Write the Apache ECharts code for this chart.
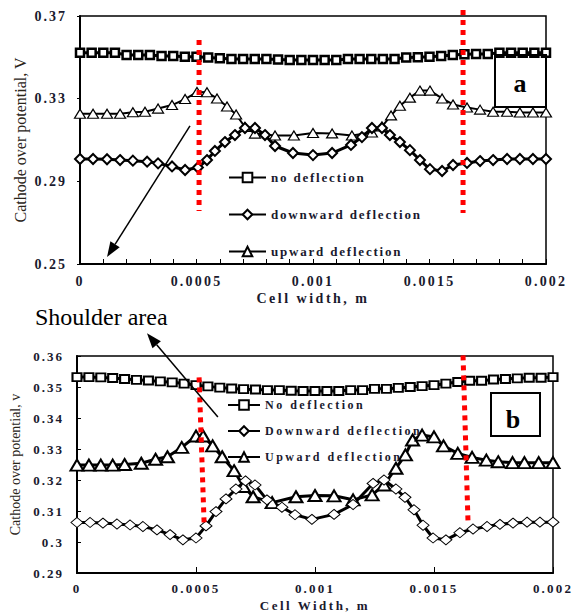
<!DOCTYPE html>
<html><head><meta charset="utf-8">
<script src="https://cdn.jsdelivr.net/npm/echarts@6/dist/echarts.min.js"></script>
<style>html,body{margin:0;padding:0;background:#fff}#main{width:573px;height:614px}</style>
</head><body><div id="main"></div>
<script>
// ---------- DATA (top chart "a") ----------
const topNoX = [0,0.00005,0.0001,0.00015,0.0002,0.00025,0.0003,0.00035,0.0004,0.00045,0.0005,0.00055,0.0006,0.00065,0.0007,0.00075,0.0008,0.00085,0.0009,0.00095,0.001,0.00105,0.0011,0.00115,0.0012,0.00125,0.0013,0.00135,0.0014,0.00145,0.0015,0.00155,0.0016,0.00165,0.0017,0.00175,0.0018,0.00185,0.0019,0.00195,0.002];
const topNoY = [0.3522,0.3522,0.3522,0.3522,0.3511,0.3511,0.3511,0.3506,0.3506,0.3503,0.3503,0.3499,0.3495,0.3492,0.3492,0.3492,0.3492,0.3490,0.3487,0.3487,0.3487,0.3487,0.3487,0.3492,0.3492,0.3492,0.3492,0.3492,0.3499,0.3501,0.3503,0.3506,0.3511,0.3515,0.3516,0.3516,0.3522,0.3522,0.3522,0.3522,0.3522];
const topDownX = [0,0.000056,0.000116,0.000172,0.000227,0.000288,0.000335,0.000395,0.000451,0.000506,0.000545,0.000579,0.000622,0.000665,0.000708,0.000751,0.000794,0.000837,0.000914,0.001,0.001082,0.001163,0.00121,0.001253,0.001296,0.00133,0.001373,0.001416,0.001459,0.001502,0.001554,0.001601,0.001661,0.001717,0.001773,0.001833,0.001888,0.001944,0.002];
const topDownY = [0.3008,0.3008,0.3007,0.3003,0.3000,0.2995,0.2987,0.2972,0.2955,0.2967,0.3003,0.3047,0.3090,0.3124,0.3158,0.3158,0.3124,0.3071,0.3037,0.3027,0.3037,0.3076,0.3114,0.3158,0.3158,0.3124,0.3090,0.3051,0.3003,0.2959,0.2950,0.2979,0.2989,0.2998,0.3003,0.3008,0.3008,0.3008,0.3008];
const topUpX = [0,0.000056,0.000116,0.000172,0.000227,0.000279,0.000335,0.000395,0.000451,0.000502,0.000545,0.000588,0.000631,0.00067,0.000708,0.000751,0.000837,0.000918,0.001,0.001082,0.001167,0.001253,0.001296,0.001335,0.001373,0.001416,0.001459,0.001502,0.001554,0.001601,0.001661,0.001717,0.001773,0.001833,0.001888,0.001944,0.002];
const topUpY = [0.3227,0.3227,0.3227,0.3227,0.3234,0.3237,0.3252,0.3269,0.3298,0.3332,0.3331,0.3301,0.3262,0.3223,0.3163,0.3131,0.3122,0.3122,0.3134,0.3132,0.3122,0.3136,0.3165,0.3219,0.3266,0.3305,0.3339,0.3339,0.3301,0.3272,0.3257,0.3247,0.3237,0.3237,0.3233,0.3233,0.3233];
const topYTicks = [0.25,0.29,0.33,0.37];
const topNames = ['no deflection','downward deflection','upward deflection'];
// annotation lines (data coords): [x1,y1,x2,y2]
const topRedLines = [[0.000511,0.3584,0.000511,0.2756],[0.001644,0.3729,0.001644,0.2747]];
const topArrow = [0.000472,0.3168,0.000116,0.2534];

// ---------- DATA (bottom chart "b") ----------
const botNoX = [0,0.00005,0.0001,0.00015,0.0002,0.00025,0.0003,0.00035,0.0004,0.00045,0.0005,0.00055,0.0006,0.00065,0.0007,0.00075,0.0008,0.00085,0.0009,0.00095,0.001,0.00105,0.0011,0.00115,0.0012,0.00125,0.0013,0.00135,0.0014,0.00145,0.0015,0.00155,0.0016,0.00165,0.0017,0.00175,0.0018,0.00185,0.0019,0.00195,0.002];
const botNoY = [0.3532,0.3532,0.3531,0.3529,0.3526,0.3523,0.3521,0.3518,0.3515,0.3511,0.3506,0.3502,0.3498,0.3495,0.3493,0.3492,0.3490,0.3490,0.3488,0.3487,0.3487,0.3487,0.3487,0.3490,0.3490,0.3494,0.3494,0.3497,0.3500,0.3503,0.3506,0.3511,0.3516,0.3520,0.3520,0.3524,0.3526,0.3528,0.3530,0.3530,0.3532];
const botDownX = [0,0.000055,0.000109,0.000168,0.000223,0.000277,0.000336,0.000391,0.000445,0.0005,0.000542,0.000584,0.000626,0.000668,0.000708,0.000748,0.000798,0.000861,0.000916,0.000987,0.00108,0.00116,0.001244,0.00129,0.00134,0.001378,0.001416,0.001454,0.001496,0.00155,0.001609,0.001664,0.001723,0.001777,0.001832,0.001891,0.001945,0.002];
const botDownY = [0.3063,0.3063,0.3061,0.3058,0.3055,0.3050,0.3039,0.3024,0.3007,0.3013,0.3052,0.3098,0.3139,0.3171,0.3197,0.3184,0.3136,0.3112,0.3088,0.3073,0.3089,0.3121,0.3189,0.3200,0.3171,0.3144,0.3104,0.3054,0.3013,0.3007,0.3030,0.3042,0.3050,0.3057,0.3061,0.3064,0.3064,0.3064];
const botUpX = [0,0.00005,0.0001,0.00015,0.0002,0.00027,0.00033,0.00038,0.00044,0.0005,0.00053,0.00057,0.00061,0.00066,0.0007,0.00074,0.00082,0.00092,0.001,0.00108,0.00116,0.00124,0.00129,0.00134,0.00138,0.00141,0.00145,0.0015,0.00154,0.0016,0.00166,0.00172,0.00177,0.00183,0.00188,0.00194,0.002];
const botUpY = [0.3248,0.3248,0.3248,0.3248,0.3250,0.3254,0.3267,0.3275,0.3305,0.3342,0.3342,0.3310,0.3275,0.3230,0.3179,0.3146,0.3127,0.3146,0.3150,0.3149,0.3136,0.3152,0.3184,0.3238,0.3281,0.3329,0.3345,0.3339,0.3310,0.3286,0.3273,0.3264,0.3259,0.3256,0.3256,0.3256,0.3256];
const botYTicks = [0.29,0.3,0.31,0.32,0.33,0.34,0.35,0.36];
const botNames = ['No deflection','Downward deflection','Upward deflection'];
const botRedLines = [[0.000513,0.3531,0.000534,0.3062],[0.001622,0.3602,0.001643,0.3062]];
const botArrow = [0.000592,0.3403,0.000294,0.3673];

const xTicks = [0,0.0005,0.001,0.0015,0.002];

// ---------- STYLE ----------
const SERIF = '"Liberation Serif","Times New Roman",serif';
const LABEL = '#1a1a2e';
const NAMEC = '#2a2418';
function pairs(xs, ys){ return xs.map((x,i)=>[x, ys[i]]); }
const fmtX = v => String(+(+v).toFixed(4));

function xAxisCfg(gi, name, fs, margin, gap, minor, tickLen){
  return {gridIndex:gi,type:'value',min:0,max:0.002,interval:0.0005,
    axisLine:{show:true,onZero:false,lineStyle:{color:'#000',width:2}},
    axisTick:{show:true,inside:true,length:tickLen,lineStyle:{color:'#000',width:1}},
    minorTick:{show:minor,splitNumber:5,length:tickLen,lineStyle:{color:'#000',width:1}},
    splitLine:{show:false},minorSplitLine:{show:false},
    axisLabel:{margin:margin,fontFamily:SERIF,fontWeight:'bold',fontSize:fs,color:LABEL,formatter:fmtX,customValues:xTicks},
    name:name,nameLocation:'middle',nameGap:gap,
    nameTextStyle:{fontFamily:SERIF,fontWeight:'bold',fontSize:fs,color:LABEL}};
}
function yAxisCfg(gi, min, max, ticks, name, fs, nfs, gap, inside, tickLen, fmt){
  return {gridIndex:gi,type:'value',min:min,max:max,
    axisLine:{show:true,onZero:false,lineStyle:{color:'#000',width:2}},
    axisTick:{show:true,inside:inside,length:tickLen,customValues:ticks,lineStyle:{color:'#000',width:1}},
    splitLine:{show:false},
    axisLabel:{margin:13,fontFamily:SERIF,fontWeight:'bold',fontSize:fs,color:LABEL,customValues:ticks,formatter:fmt},
    name:name,nameLocation:'middle',nameGap:gap,
    nameTextStyle:{fontFamily:SERIF,fontSize:nfs,color:NAMEC}};
}
function lineSeries(name, gi, data, sym, size, bw, lw){
  return {type:'line',name:name,xAxisIndex:gi,yAxisIndex:gi,data:data,
    symbol:sym,symbolSize:size,showSymbol:true,showAllSymbol:true,clip:false,
    lineStyle:{color:'#000',width:lw},
    itemStyle:{color:'#fff',borderColor:'#000',borderWidth:bw},
    emphasis:{disabled:true}};
}
function legendCfg(names, left, top, iw, gap, fs){
  return {data:names,left:left,top:top,padding:0,orient:'vertical',itemWidth:iw,itemHeight:12,itemGap:gap,
    selectedMode:false,textStyle:{fontFamily:SERIF,fontWeight:'bold',fontSize:fs,color:LABEL}};
}

const option = {
  animation:false,
  backgroundColor:'#fff',
  grid:[
    {left:80,top:16,width:466,height:248,show:true,borderColor:'#000',borderWidth:1.5,backgroundColor:'transparent'},
    {left:77,top:356,width:476,height:217,show:true,borderColor:'#000',borderWidth:1.5,backgroundColor:'transparent'}
  ],
  xAxis:[
    xAxisCfg(0,'Cell width, m',14,10,27,true,5),
    xAxisCfg(1,'Cell Width, m',13,8.5,26,false,6)
  ],
  yAxis:[
    yAxisCfg(0,0.25,0.37,topYTicks,'Cathode over potential, V',14,16,52,false,3,v=>(+v).toFixed(2)),
    yAxisCfg(1,0.29,0.36,botYTicks,'Cathode over potential, v',13,14,55,true,4,v=>String(+(+v).toFixed(2)))
  ],
  legend:[
    legendCfg(topNames,228,171,37,24,13),
    legendCfg(botNames,227,399,32,14,12)
  ],
  series:[
    lineSeries(topNames[2],0,pairs(topUpX,topUpY),'triangle',[11,9],1.2,2),
    lineSeries(topNames[1],0,pairs(topDownX,topDownY),'diamond',[10,10],2,3),
    lineSeries(topNames[0],0,pairs(topNoX,topNoY),'rect',8,2.5,3),
    lineSeries(botNames[2],1,pairs(botUpX,botUpY),'triangle',[13,11],2,3),
    lineSeries(botNames[1],1,pairs(botDownX,botDownY),'diamond',[12,10],1,3),
    lineSeries(botNames[0],1,pairs(botNoX,botNoY),'rect',[9,8],2,3)
  ]
};

const chart = echarts.init(document.getElementById('main'), null, {renderer:'svg', width:573, height:614});
chart.setOption(option);

// annotations placed through the chart's own scales
function P(gi, x, y){ return chart.convertToPixel({gridIndex:gi}, [x, y]); }
function redDots(gi, l){
  const a = P(gi,l[0],l[1]), b = P(gi,l[2],l[3]);
  return {type:'line',shape:{x1:a[0],y1:a[1],x2:b[0],y2:b[1]},style:{stroke:'#ff0000',lineWidth:5,lineDash:[5,5],lineCap:'butt'},z:60,silent:true};
}
function arrow(gi, l){
  const s = P(gi,l[0],l[1]), t = P(gi,l[2],l[3]);
  const dx = t[0]-s[0], dy = t[1]-s[1], len = Math.hypot(dx,dy);
  const ux = dx/len, uy = dy/len, L = 15, W = 5.5;
  const bx = t[0]-L*ux, by = t[1]-L*uy, nx = -uy, ny = ux;
  return [
    {type:'line',shape:{x1:s[0],y1:s[1],x2:bx,y2:by},style:{stroke:'#000',lineWidth:1.5},z:61,silent:true},
    {type:'polygon',shape:{points:[[t[0],t[1]],[bx+W*nx,by+W*ny],[bx-W*nx,by-W*ny]]},style:{fill:'#000'},z:61,silent:true}
  ];
}
const graphics = [
  {type:'rect',shape:{x:495,y:55,width:51,height:52},style:{fill:'transparent',stroke:'#000',lineWidth:2},z:50,silent:true},
  {type:'text',x:520,y:83,style:{text:'a',font:'bold 26px '+SERIF,fill:'#000',align:'center',verticalAlign:'middle'},z:51,silent:true},
  {type:'rect',shape:{x:491,y:393,width:49,height:43},style:{fill:'transparent',stroke:'#000',lineWidth:2},z:50,silent:true},
  {type:'text',x:513,y:419,style:{text:'b',font:'bold 26px '+SERIF,fill:'#000',align:'center',verticalAlign:'middle'},z:51,silent:true},
  {type:'text',x:35,y:317,style:{text:'Shoulder area',font:'24px '+SERIF,fill:'#000',align:'left',verticalAlign:'middle'},z:51,silent:true},
  redDots(0,topRedLines[0]), redDots(0,topRedLines[1]),
  redDots(1,botRedLines[0]), redDots(1,botRedLines[1])
].concat(arrow(0,topArrow), arrow(1,botArrow));
chart.setOption({graphic: graphics});

// letter spacing like the original word-processor figure
const SPACING = {};
['0','0.0005','0.001','0.0015','0.002'].forEach(s=>SPACING[s]=2.2);
topYTicks.concat(botYTicks).forEach(v=>{SPACING[(+v).toFixed(2)]=2; SPACING[String(+v.toFixed(2))]=2;});
SPACING['Cell width, m']=2.5; SPACING['Cell Width, m']=2.5;
topNames.forEach(s=>SPACING[s]=1.8);
botNames.forEach(s=>SPACING[s]=2.5);
function applySpacing(){
  document.querySelectorAll('#main text').forEach(t=>{
    const s = t.textContent.trim();
    if (Object.prototype.hasOwnProperty.call(SPACING,s)) t.style.letterSpacing = SPACING[s]+'px';
  });
}
applySpacing();
chart.on('finished', applySpacing);
setTimeout(applySpacing, 30);
</script>
</body></html>
